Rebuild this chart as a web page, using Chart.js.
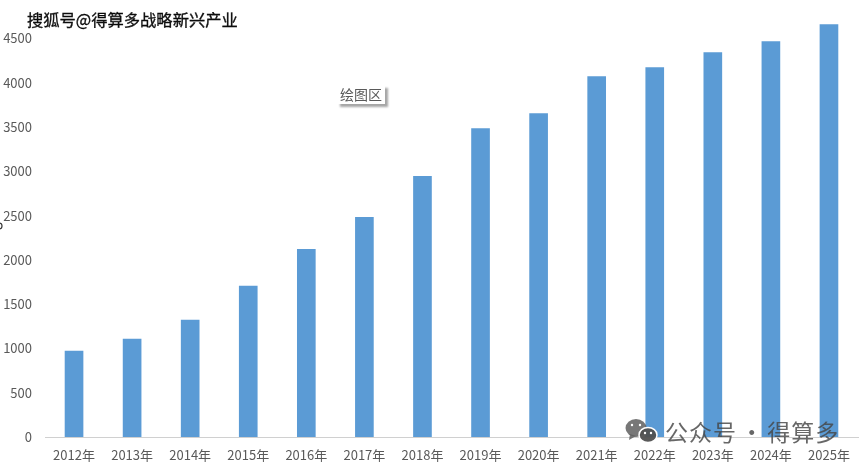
<!DOCTYPE html>
<html>
<head>
<meta charset="UTF-8">
<title>2012-2025</title>
<script src="https://cdn.jsdelivr.net/npm/chart.js@4/dist/chart.umd.min.js"></script>
<style>
	html, body { margin: 0; padding: 0; background: #fff; overflow: hidden; }
	#wrap { position: relative; width: 866px; height: 466px; }
	#wrap canvas { position: absolute; left: 0; top: 0; }
	#source {
		position: absolute; left: 27px; top: 7px;
		font: 16.3px "Noto Sans CJK SC", sans-serif; color: #111;
		-webkit-text-stroke: 0.3px #000; white-space: nowrap;
	}
	#plotTag {
		position: absolute; left: 337px; top: 85px; width: 48px; height: 19px;
		font: 14px/19px "Noto Sans CJK SC", sans-serif; color: #595959; text-align: center;
		background: #fff; box-shadow: 3px 3px 2px #a6a6a6;
	}
	#wechat {
		position: absolute; left: 665px; top: 414px;
		font: 23px "Noto Sans CJK SC", sans-serif; color: rgba(70, 70, 70, 0.82);
		word-spacing: -3px; letter-spacing: 1px; white-space: nowrap;
	}
</style>
</head>
<body>
<div id="wrap">
	<canvas id="reportChart" width="866" height="466"></canvas>
	<div id="source">搜狐号@得算多战略新兴产业</div>
	<div id="plotTag">绘图区</div>
	<div id="wechat">公众号 · 得算多</div>
</div>
<script>
	var years = ["2012年","2013年","2014年","2015年","2016年","2017年","2018年","2019年","2020年","2021年","2022年","2023年","2024年","2025年"];
	var values = [970, 1105, 1320, 1703, 2120, 2480, 2943, 3484, 3653, 4070, 4171, 4340, 4465, 4657];
	var yTickValues = [0, 500, 1000, 1500, 2000, 2500, 3000, 3500, 4000, 4500];

	// wechat bubbles next to the account name, plus the clipped mark on the left edge
	var decorations = {
		id: "decorations",
		afterDraw: function (chart) {
			var c = chart.ctx;
			c.save();
			c.fillStyle = "rgba(95, 95, 95, 0.85)";
			c.beginPath();
			c.ellipse(636, 428, 10.5, 9, 0, 0, Math.PI * 2);
			c.fill();
			c.beginPath();
			c.moveTo(630, 434);
			c.lineTo(629, 440);
			c.lineTo(636, 436);
			c.fill();
			c.strokeStyle = "#fff";
			c.lineWidth = 1.5;
			c.fillStyle = "rgba(80, 80, 80, 0.95)";
			c.beginPath();
			c.ellipse(648, 435, 9, 7.5, 0, 0, Math.PI * 2);
			c.fill();
			c.stroke();
			c.fillStyle = "#fff";
			[[632, 425], [640, 425], [645, 433], [651, 433]].forEach(function (p) {
				c.beginPath();
				c.arc(p[0], p[1], 1.2, 0, Math.PI * 2);
				c.fill();
			});
			c.strokeStyle = "#333";
			c.lineWidth = 1.2;
			c.beginPath();
			c.arc(-1, 226, 3, 0, Math.PI * 2);
			c.stroke();
			c.restore();
		}
	};

	var ctx = document.getElementById("reportChart").getContext("2d");
	var reportChart = new Chart(ctx, {
		type: "bar",
		data: {
			labels: years,
			datasets: [{
				data: values,
				backgroundColor: "#5b9bd5",
				barThickness: 18
			}]
		},
		plugins: [decorations],
		options: {
			responsive: false,
			animation: false,
			layout: { padding: { top: 20, right: 8, bottom: 0, left: 0 } },
			plugins: { legend: { display: false }, tooltip: { enabled: false } },
			scales: {
				x: {
					grid: { display: false, drawTicks: false },
					border: { color: "#d0d0d0", width: 1 },
					ticks: {
						color: "#595959",
						padding: 10,
						maxRotation: 0,
						autoSkip: false,
						font: { family: "'Noto Sans CJK SC'", size: 13 }
					},
					afterFit: function (scale) { scale.height = 29; }
				},
				y: {
					min: 0,
					max: 4700,
					grid: { display: false, drawTicks: false },
					border: { display: false },
					afterFit: function (scale) { scale.width = 45; },
					afterBuildTicks: function (scale) {
						scale.ticks = yTickValues.map(function (v) { return { value: v }; });
					},
					ticks: {
						color: "#595959",
						padding: 13,
						callback: function (v) { return String(v); },
						font: { family: "'Noto Sans CJK SC'", size: 13 }
					}
				}
			}
		}
	});
</script>
</body>
</html>
